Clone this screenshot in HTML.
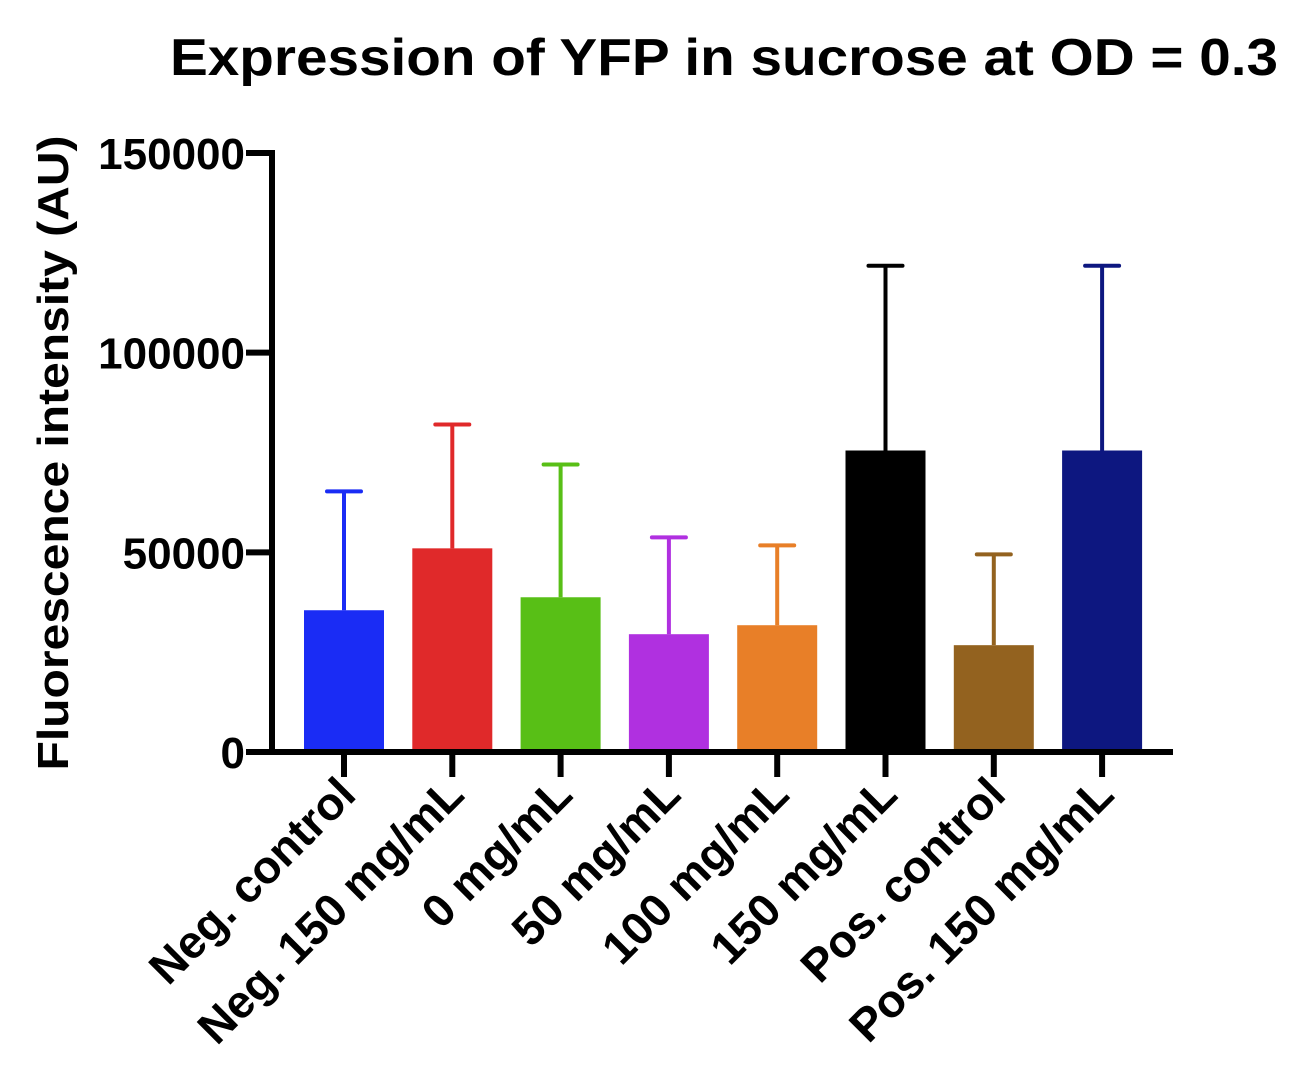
<!DOCTYPE html>
<html><head><meta charset="utf-8"><style>
html,body{margin:0;padding:0;background:#fff;}
svg text{font-family:"Liberation Sans",Arial,sans-serif;font-weight:bold;fill:#000;}
</style></head><body>
<svg id="chart" width="1300" height="1067" xmlns="http://www.w3.org/2000/svg">
<text x="170" y="75" font-size="52" textLength="1108" lengthAdjust="spacingAndGlyphs">Expression of YFP in sucrose at OD = 0.3</text>
<text transform="translate(68,453) rotate(-90)" font-size="44" text-anchor="middle" textLength="635" lengthAdjust="spacingAndGlyphs">Fluorescence intensity (AU)</text>
<g id="marks"></g>
<g id="axes"></g>
</svg>
<script>
const categories=["Neg. control","Neg. 150 mg/mL","0 mg/mL","50 mg/mL","100 mg/mL","150 mg/mL","Pos. control","Pos. 150 mg/mL"];
const means=[35500,51000,38750,29500,31750,75500,26750,75500];
const errors=[29750,31000,33250,24250,20000,46250,22750,46250];
const colors=["#1a2cf5","#e0292a","#58bf16","#b030e0","#e87f28","#000000","#93621f","#0d1780"];
const yTicks=[0,50000,100000,150000];
const NS="http://www.w3.org/2000/svg";
const y0=752,yTop=153,yMax=150000;
function y(v){return y0-(v/yMax)*(y0-yTop);}
function x(i){return 344+i*108.3;}
const marks=document.getElementById('marks'),axes=document.getElementById('axes');
function mk(tag,attrs,parent){const e=document.createElementNS(NS,tag);for(const k in attrs)e.setAttribute(k,attrs[k]);parent.appendChild(e);return e;}
categories.forEach((c,i)=>{
  const cx=x(i),top=y(means[i]),et=y(means[i]+errors[i]);
  const eb=mk('line',{x1:cx,x2:cx,y1:top,y2:et,stroke:colors[i],'stroke-width':4},marks);
  
  
  const cap=mk('line',{x1:cx-17,x2:cx+17,y1:et,y2:et,stroke:colors[i],'stroke-width':4,'stroke-linecap':'round'},marks);
  
  
  const r=mk('rect',{x:cx-40,y:top,width:80,height:y0-top,fill:colors[i]},marks);
  
  
  const t=mk('line',{x1:cx,x2:cx,y1:y0,y2:777,stroke:'#000','stroke-width':6},axes);
  
  
  const l=mk('text',{transform:`translate(${cx+14},${797}) rotate(-45)`,'font-size':46,'text-anchor':'end'},axes);
  l.textContent=c;
  
  
});
yTicks.forEach(v=>{
  const t=mk('line',{x1:246,x2:272,y1:y(v),y2:y(v),stroke:'#000','stroke-width':6},axes);
  
  
  const l=mk('text',{x:245,y:y(v)+16,'font-size':44,'text-anchor':'end'},axes);
  l.textContent=String(v);
  
  
});
const ya=mk('line',{x1:272,x2:272,y1:yTop-3,y2:y0+3,stroke:'#000','stroke-width':6},axes);


const xa=mk('line',{x1:246,x2:1173,y1:y0,y2:y0,stroke:'#000','stroke-width':6},axes);


</script>
</body></html>
